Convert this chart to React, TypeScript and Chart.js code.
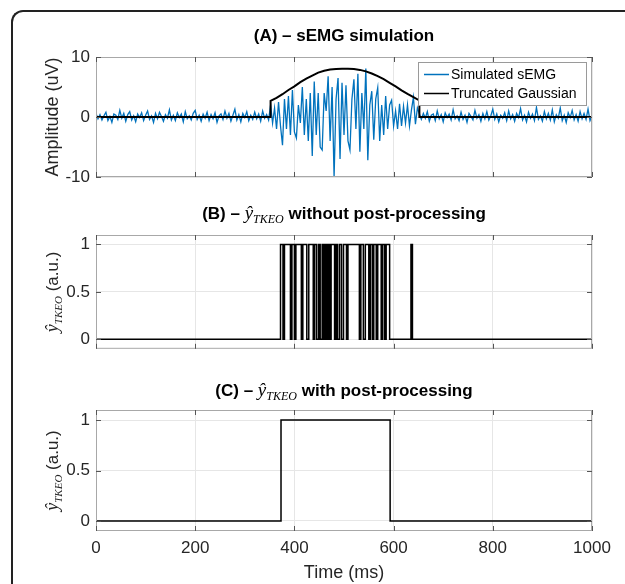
import { useEffect, useRef } from 'react';
import { Chart, registerables } from 'chart.js';

Chart.register(...registerables);

const SANS = "'Liberation Sans', Arial, sans-serif";
const SERIF = "'Liberation Serif', 'DejaVu Serif', serif";

// ---------- data ----------
const timeTicks = [0, 200, 400, 600, 800, 1000];
const ampTicks = [-10, 0, 10];
const binTicks = [0, 0.5, 1];

const semgStepMs = 4;
const semgPre = [
  0.6, -0.3, 0.4, -0.5, 0.2, 0.8, -0.6, 0.1, -0.9, 0.5,
  0.3, -0.4, 1.1, -0.2, 0.6, -0.7, 0.4, 0.9, -0.5, 0.2,
  -0.8, 0.5, -0.1, 0.7, -0.6, 0.3, 1.0, -0.4, 0.2, -0.9,
  0.6, -0.3, 0.8, 0.1, -0.7, 0.4, -0.2, 1.2, -0.5, 0.3,
  -0.6, 0.7, -0.1, 0.5, -0.8, 0.9, -0.3, 0.2, -0.5, 0.6,
  1.1, -0.4, 0.3, -0.7, 0.5, -0.2, 0.8, -0.6, 0.4, -0.3,
  0.7, -0.9, 0.2, 0.5, -0.4, 1.0, -0.2, 0.6, -0.7, 0.3,
  1.3, -0.5, 0.4, -0.8, 0.6, -0.1, 0.9, -0.6, 0.3, -0.4,
  0.8, -0.3, 0.5, -0.7, 1.0, -0.2, 0.4, -0.5,
];
const semgBurst = [
  2.0, -1.0, 1.5, -2.0, 2.5, -1.5, -4.7, 3.0, -2.0, 3.5,
  -3.0, 4.5, -2.5, -3.5, 2.0, -1.0, 5.0, -3.0, 3.0, -4.0,
  4.0, -6.5, 5.9, -3.0, 4.0, -5.0, -5.5, 4.0, 1.0, 6.8,
  -4.0, 5.0, -10.0, 3.0, 6.5, -7.0, 5.7, -3.0, 5.3, -4.0,
  -5.5, 3.0, 6.3, -2.0, 7.2, -5.8, 4.0, -2.0, 8.1, -7.2,
  2.0, 4.3, -3.8, 3.0, 4.9, -4.0, 2.0, -3.0, 3.5, -2.0,
  2.0, 2.8, -1.5, 1.0, -2.0, 2.2, -1.5, 1.8, -1.0, 2.0,
  -1.5, 1.2, 3.3, -1.2, 1.5, 0.5,
];
const semgPost = [
  -0.4, 0.6, -0.2, 0.9, -0.7, 0.3, 0.5, -0.6, 1.0, -0.3,
  0.4, -0.8, 0.7, -0.1, 0.5, -0.5, 1.2, -0.3, 0.2, -0.6,
  0.8, -0.4, 0.3, -0.9, 0.6, 0.1, -0.5, 1.1, -0.2, 0.4,
  -0.7, 0.6, -0.3, 0.9, -0.5, 0.2, 1.3, -0.4, 0.5, -0.8,
  0.3, -0.2, 0.7, -0.6, 1.0, -0.3, 0.4, -0.7, 0.6, -0.1,
  1.4, -0.5, 0.3, -0.8, 0.8, -0.2, 0.5, -0.6, 1.6, -0.4,
  0.2, -0.7, 0.9, -0.3, 0.6, -0.5, 1.2, -0.8, 0.4, -0.2,
  1.5, -0.6, 0.3, -0.9, 0.7, -0.1, 1.1, -0.5, 0.4, -0.7,
  0.9, -0.3, 0.6, -0.4, 1.3, -0.6, 0.2,
];
const semgValues = [...semgPre, ...semgBurst, ...semgPost];

const gaussTimes = [0, 352, 352, 364, 376, 388, 400, 412, 424, 436, 448, 460, 472, 484, 496, 508, 520, 532, 544, 556, 568, 580, 592, 604, 616, 628, 640, 652, 652, 1000];
const gaussValues = [0, 0, 2.7, 3.2, 3.8, 4.5, 5.1, 5.8, 6.4, 6.9, 7.4, 7.7, 7.9, 8.0, 8.05, 8.05, 8.0, 7.85, 7.6, 7.25, 6.8, 6.3, 5.7, 5.1, 4.45, 3.85, 3.3, 2.75, 0, 0];

const tkeoRawTimes = [
  0, 372, 377, 380, 392, 395, 400, 403, 414, 417, 425, 429, 438, 441, 445, 449, 452,
  456, 459, 462, 465, 468, 471, 474, 481, 484, 487, 491, 495, 499, 505, 508, 531,
  534, 539, 543, 550, 553, 557, 560, 565, 568, 575, 578, 582, 585, 592, 635, 638, 1000,
];
const tkeoRawValues = [
  0, 1, 0, 1, 0, 1, 0, 1, 0, 1, 0, 1, 0, 1, 0, 1, 0,
  1, 0, 1, 0, 1, 0, 1, 0, 1, 0, 1, 0, 1, 0, 1, 0,
  1, 0, 1, 0, 1, 0, 1, 0, 1, 0, 1, 0, 1, 0, 1, 0, 0,
];

const tkeoPostTimes = [0, 373, 593, 1000];
const tkeoPostValues = [0, 1, 0, 0];

// ---------- helpers ----------
type Seg = { t: string; f: string; dy?: number };

function drawRich(ctx: CanvasRenderingContext2D, segs: Seg[], cx: number, baseline: number) {
  const widths = segs.map((s) => {
    ctx.font = s.f;
    return ctx.measureText(s.t).width;
  });
  const total = widths.reduce((a, b) => a + b, 0);
  let x = cx - total / 2;
  ctx.textAlign = 'left';
  ctx.textBaseline = 'alphabetic';
  segs.forEach((s, i) => {
    ctx.font = s.f;
    ctx.fillText(s.t, x, baseline + (s.dy || 0));
    x += widths[i];
  });
}

const yHat = (size: number): Seg[] => [
  { t: 'ŷ', f: `italic ${size}px ${SERIF}` },
  { t: 'TKEO', f: `italic ${Math.round(size * 0.62)}px ${SERIF}`, dy: 4 },
];

type FrameOpts = {
  title: Seg[];
  titleBaseline: number;
  ylabel: Seg[];
  xlabel?: Seg[];
  xlabelBaseline?: number;
  legend?: boolean;
};

function framePlugin(id: string, o: FrameOpts) {
  return {
    id,
    afterDraw(chart: any) {
      const { ctx, chartArea: a, scales } = chart;
      ctx.save();
      // axes box
      ctx.strokeStyle = '#a8a8a8';
      ctx.lineWidth = 1;
      ctx.strokeRect(a.left + 0.5, a.top + 0.5, a.right - a.left - 1, a.bottom - a.top - 1);
      // inward ticks
      ctx.strokeStyle = '#555555';
      ctx.beginPath();
      timeTicks.forEach((v) => {
        const x = Math.round(scales.x.getPixelForValue(v)) + 0.5;
        ctx.moveTo(x, a.bottom);
        ctx.lineTo(x, a.bottom - 5);
        ctx.moveTo(x, a.top);
        ctx.lineTo(x, a.top + 5);
      });
      scales.y.ticks.forEach((t: any) => {
        const y = Math.round(scales.y.getPixelForValue(t.value)) + 0.5;
        ctx.moveTo(a.left, y);
        ctx.lineTo(a.left + 5, y);
        ctx.moveTo(a.right, y);
        ctx.lineTo(a.right - 5, y);
      });
      ctx.stroke();

      // title
      ctx.fillStyle = '#000000';
      drawRich(ctx, o.title, (a.left + a.right) / 2, o.titleBaseline);

      // y label
      ctx.fillStyle = '#262626';
      ctx.save();
      ctx.translate(52, (a.top + a.bottom) / 2);
      ctx.rotate(-Math.PI / 2);
      drawRich(ctx, o.ylabel, 0, 6);
      ctx.restore();

      // x label
      if (o.xlabel && o.xlabelBaseline !== undefined) {
        ctx.fillStyle = '#262626';
        drawRich(ctx, o.xlabel, (a.left + a.right) / 2, o.xlabelBaseline);
      }

      // legend
      if (o.legend) {
        const ds = chart.data.datasets;
        const w = 169;
        const h = 44;
        const lx = a.right - 5 - w;
        const ly = a.top + 5;
        ctx.fillStyle = '#ffffff';
        ctx.fillRect(lx, ly, w, h);
        ctx.strokeStyle = '#9a9a9a';
        ctx.lineWidth = 1;
        ctx.strokeRect(lx + 0.5, ly + 0.5, w - 1, h - 1);
        ctx.font = `14px ${SANS}`;
        ctx.textBaseline = 'middle';
        ctx.textAlign = 'left';
        ds.forEach((d: any, i: number) => {
          const cy = ly + 12 + i * 19;
          ctx.strokeStyle = d.borderColor;
          ctx.lineWidth = 1.5;
          ctx.beginPath();
          ctx.moveTo(lx + 6, cy + 0.5);
          ctx.lineTo(lx + 31, cy + 0.5);
          ctx.stroke();
          ctx.fillStyle = '#000000';
          ctx.fillText(d.label, lx + 33, cy + 1);
        });
      }
      ctx.restore();
    },
  };
}

function makeConfig(p: {
  datasets: any[];
  yMin: number;
  yMax: number;
  yTicks: number[];
  showX: boolean;
  pad: { top: number; right: number; bottom: number; left: number };
  xAxisH: number;
  plugin: any;
}) {
  const tickFont = { family: SANS, size: 17 };
  return {
    type: 'line' as const,
    data: { datasets: p.datasets },
    options: {
      responsive: false,
      maintainAspectRatio: false,
      animation: false,
      events: [],
      layout: { padding: p.pad },
      plugins: { legend: { display: false }, tooltip: { enabled: false }, title: { display: false } },
      elements: { point: { radius: 0 }, line: { tension: 0 } },
      scales: {
        x: {
          type: 'linear',
          min: 0,
          max: 1000,
          afterBuildTicks: (s: any) => {
            s.ticks = timeTicks.map((value) => ({ value }));
          },
          afterFit: (s: any) => {
            s.height = p.xAxisH;
          },
          grid: { color: '#e6e6e6', lineWidth: 1, drawTicks: false },
          border: { display: false },
          ticks: {
            display: p.showX,
            color: '#262626',
            font: tickFont,
            padding: 7,
            maxRotation: 0,
            autoSkip: false,
            callback: (v: any) => String(v),
          },
        },
        y: {
          type: 'linear',
          min: p.yMin,
          max: p.yMax,
          afterBuildTicks: (s: any) => {
            s.ticks = p.yTicks.map((value) => ({ value }));
          },
          afterFit: (s: any) => {
            s.width = 96;
          },
          grid: { color: '#e6e6e6', lineWidth: 1, drawTicks: false },
          border: { display: false },
          ticks: { color: '#262626', font: tickFont, padding: 6, callback: (v: any) => String(v) },
        },
      },
    },
    plugins: [p.plugin],
  };
}

const W = 625;
const panels = [
  { top: 0, height: 195 },
  { top: 195, height: 170 },
  { top: 365, height: 219 },
];

export default function App() {
  const refA = useRef<HTMLCanvasElement>(null);
  const refB = useRef<HTMLCanvasElement>(null);
  const refC = useRef<HTMLCanvasElement>(null);

  useEffect(() => {
    const semgData = semgValues.map((v, i) => ({ x: i * semgStepMs, y: v }));
    const gaussData = gaussTimes.map((t, i) => ({ x: t, y: gaussValues[i] }));
    const rawData = tkeoRawTimes.map((t, i) => ({ x: t, y: tkeoRawValues[i] }));
    const postData = tkeoPostTimes.map((t, i) => ({ x: t, y: tkeoPostValues[i] }));

    const charts: Chart[] = [];

    charts.push(
      new Chart(
        refA.current as HTMLCanvasElement,
        makeConfig({
          datasets: [
            { label: 'Simulated sEMG', data: semgData, borderColor: '#0072BD', borderWidth: 1.3, order: 1 },
            { label: 'Truncated Gaussian', data: gaussData, borderColor: '#000000', borderWidth: 2, order: 0 },
          ],
          yMin: -10,
          yMax: 10,
          yTicks: ampTicks,
          showX: false,
          pad: { top: 57, right: 33, bottom: 18, left: 0 },
          xAxisH: 0,
          plugin: framePlugin('frameA', {
            title: [{ t: '(A) – sEMG simulation', f: `bold 17px ${SANS}` }],
            titleBaseline: 41,
            ylabel: [{ t: 'Amplitude (uV)', f: `18px ${SANS}` }],
            legend: true,
          }),
        }) as any
      )
    );

    charts.push(
      new Chart(
        refB.current as HTMLCanvasElement,
        makeConfig({
          datasets: [
            { label: 'ŷTKEO', data: rawData, borderColor: '#000000', borderWidth: 1.5, stepped: 'before' },
          ],
          yMin: -0.1,
          yMax: 1.1,
          yTicks: binTicks,
          showX: false,
          pad: { top: 40, right: 33, bottom: 8, left: 0 },
          xAxisH: 0,
          plugin: framePlugin('frameB', {
            title: [
              { t: '(B) – ', f: `bold 17px ${SANS}` },
              ...yHat(19),
              { t: ' without post-processing', f: `bold 17px ${SANS}` },
            ],
            titleBaseline: 24,
            ylabel: [...yHat(18), { t: ' (a.u.)', f: `17px ${SANS}` }],
          }),
        }) as any
      )
    );

    charts.push(
      new Chart(
        refC.current as HTMLCanvasElement,
        makeConfig({
          datasets: [
            { label: 'ŷTKEO', data: postData, borderColor: '#000000', borderWidth: 1.5, stepped: 'before' },
          ],
          yMin: -0.1,
          yMax: 1.1,
          yTicks: binTicks,
          showX: true,
          pad: { top: 45, right: 33, bottom: 0, left: 0 },
          xAxisH: 53,
          plugin: framePlugin('frameC', {
            title: [
              { t: '(C) – ', f: `bold 17px ${SANS}` },
              ...yHat(19),
              { t: ' with post-processing', f: `bold 17px ${SANS}` },
            ],
            titleBaseline: 31,
            ylabel: [...yHat(18), { t: ' (a.u.)', f: `17px ${SANS}` }],
            xlabel: [{ t: 'Time (ms)', f: `18px ${SANS}` }],
            xlabelBaseline: 213,
          }),
        }) as any
      )
    );

    return () => {
      charts.forEach((c) => c.destroy());
    };
  }, []);

  const refs = [refA, refB, refC];

  return (
    <div
      style={{
        position: 'fixed',
        left: 0,
        top: 0,
        width: W,
        height: 584,
        background: '#ffffff',
        overflow: 'hidden',
      }}
    >
      <div
        style={{
          position: 'absolute',
          left: 11,
          top: 10,
          width: 800,
          height: 800,
          borderTop: '2px solid #222222',
          borderLeft: '2px solid #222222',
          borderTopLeftRadius: 12,
          boxSizing: 'border-box',
        }}
      />
      {panels.map((p, i) => (
        <canvas
          key={i}
          ref={refs[i]}
          width={W}
          height={p.height}
          style={{ position: 'absolute', left: 0, top: p.top, width: W, height: p.height, display: 'block' }}
        />
      ))}
    </div>
  );
}
